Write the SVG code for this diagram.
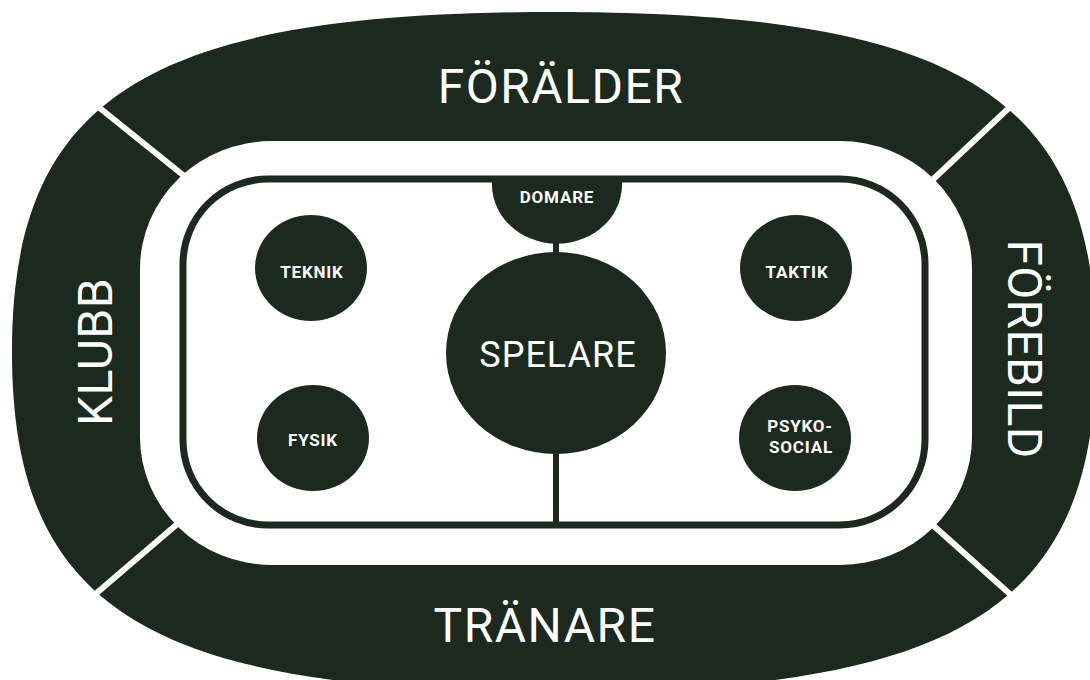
<svg xmlns="http://www.w3.org/2000/svg" width="1090" height="680" viewBox="0 0 1090 680">
<style>
.dk{fill:#1b291f}
.div{stroke:#ffffff;stroke-width:6;stroke-linecap:butt}
.big{font-family:Roboto,"Liberation Sans",sans-serif;font-size:48px;fill:#ffffff;text-anchor:middle;letter-spacing:1.5px}
.mid{font-family:Roboto,"Liberation Sans",sans-serif;font-size:36px;fill:#ffffff;text-anchor:middle;letter-spacing:1px}
.sm{font-family:Roboto,"Liberation Sans",sans-serif;font-size:17px;font-weight:bold;fill:#ffffff;text-anchor:middle;letter-spacing:0.8px}
</style>
<rect width="1090" height="680" fill="#ffffff"/>
<g id="ring">
<path class="dk" fill-rule="evenodd" d="M554,12 C960.5,12 1096,97 1096,352 C1096,607 960.5,692 554,692 C147.5,692 12,607 12,352 C12,97 147.5,12 554,12 Z M272,141 L840,141 A132,128 0 0 1 972,269 L972,437 A132,128 0 0 1 840,565 L272,565 A132,128 0 0 1 140,437 L140,269 A132,128 0 0 1 272,141 Z"/>
<line class="div" x1="91" y1="101" x2="191" y2="181.5"/>
<line class="div" x1="1018" y1="99.5" x2="926" y2="186"/>
<line class="div" x1="88.5" y1="600" x2="186" y2="516.5"/>
<line class="div" x1="1021" y1="604" x2="926" y2="519"/>
</g>
<g id="foralder"><text class="big" x="561" y="103">FÖRÄLDER</text></g>
<g id="tranare"><text class="big" x="545" y="642">TRÄNARE</text></g>
<g id="klubb"><text class="big" transform="translate(112,352) rotate(-90)" x="0" y="0" style="letter-spacing:0.5px">KLUBB</text></g>
<g id="forebild"><text class="big" transform="translate(1008,349) rotate(90)" x="0" y="0" style="letter-spacing:0.3px">FÖREBILD</text></g>
<g id="rink">
<rect x="183" y="179" width="742" height="346" rx="85" ry="85" fill="none" stroke="#1b291f" stroke-width="7"/>
</g>
<g id="connectors">
<line x1="556" y1="179" x2="556" y2="525" stroke="#1b291f" stroke-width="6"/>
</g>
<g id="domare">
<path class="dk" d="M492.3,179 A65,59 0 1 0 621.7,179 Z"/>
<text class="sm" x="557" y="203">DOMARE</text>
</g>
<g id="spelare">
<ellipse class="dk" cx="556" cy="353" rx="110" ry="101"/>
<text class="mid" x="558" y="367">SPELARE</text>
</g>
<g id="teknik">
<ellipse class="dk" cx="311" cy="268" rx="56" ry="53"/>
<text class="sm" x="312" y="278">TEKNIK</text>
</g>
<g id="taktik">
<ellipse class="dk" cx="796" cy="268" rx="56" ry="53"/>
<text class="sm" x="797" y="278">TAKTIK</text>
</g>
<g id="fysik">
<ellipse class="dk" cx="313" cy="438" rx="56" ry="53"/>
<text class="sm" x="313" y="446">FYSIK</text>
</g>
<g id="psykosocial">
<ellipse class="dk" cx="795" cy="438" rx="56" ry="53"/>
<text class="sm" x="800" y="432">PSYKO-</text>
<text class="sm" x="801" y="453">SOCIAL</text>
</g>
</svg>
